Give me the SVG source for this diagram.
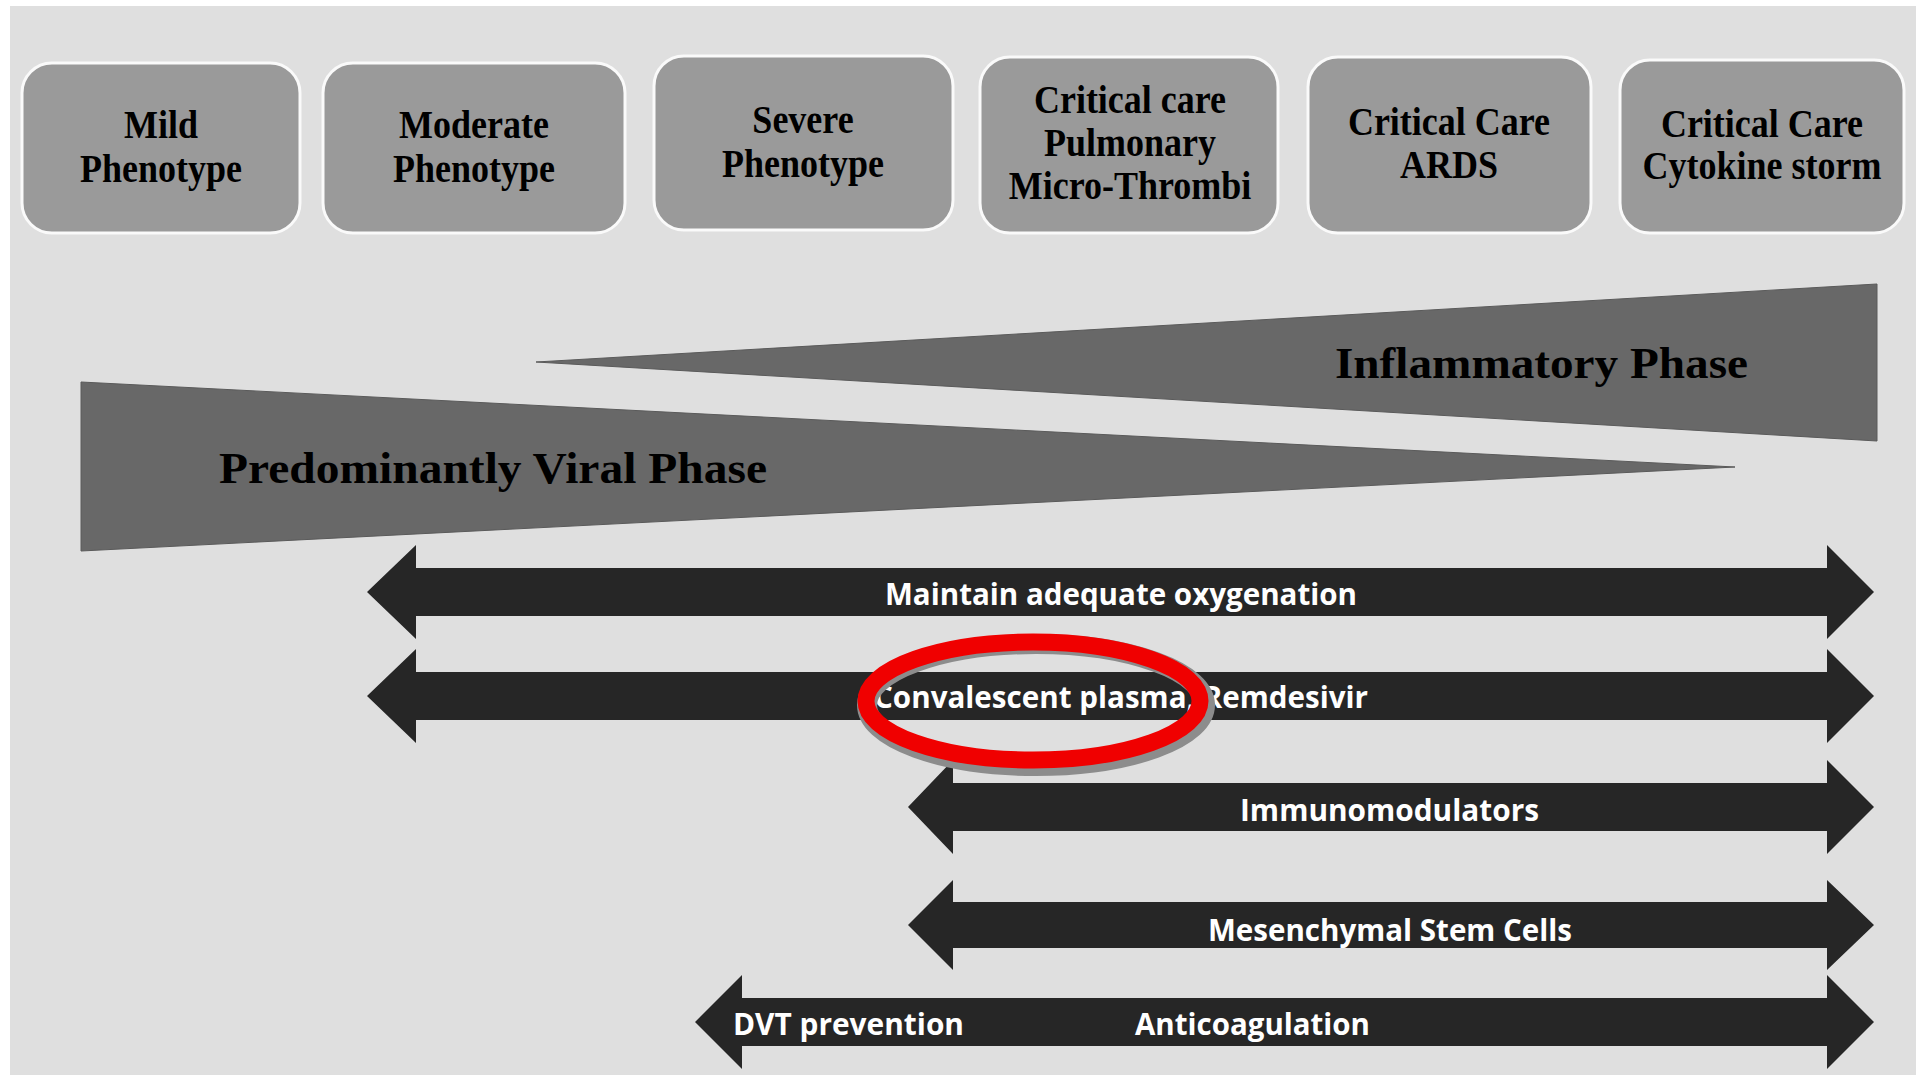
<svg xmlns="http://www.w3.org/2000/svg" width="1921" height="1075" viewBox="0 0 1921 1075">
<style>
.box{fill:#9a9a9a;stroke:#fafafa;stroke-width:3}
.bt{font-family:"Liberation Serif","Times New Roman",serif;font-weight:bold;font-size:36px;fill:#000;text-anchor:middle}
.ph{font-family:"Liberation Serif","Times New Roman",serif;font-weight:bold;font-size:44px;fill:#000}
.tri{fill:#686868;stroke:#5a5a5a;stroke-width:1}
.arr{fill:#262626}
.at{font-family:"Open Sans","Liberation Sans",sans-serif;font-weight:bold;font-size:30px;fill:#fff}
</style>
<rect x="0" y="0" width="1921" height="1075" fill="#ffffff"/>
<rect x="10" y="6" width="1906" height="1069" fill="#dfdfdf"/>

<g id="node-mild"><rect class="box" x="22" y="63" width="278" height="170" rx="30"/><text class="bt" transform="translate(161,138) scale(1,1.1)">Mild</text><text class="bt" transform="translate(161,182) scale(1,1.1)">Phenotype</text></g>
<g id="node-moderate"><rect class="box" x="323" y="63" width="302" height="170" rx="30"/><text class="bt" transform="translate(474,138) scale(1,1.1)">Moderate</text><text class="bt" transform="translate(474,182) scale(1,1.1)">Phenotype</text></g>
<g id="node-severe"><rect class="box" x="654" y="56" width="299" height="174" rx="30"/><text class="bt" transform="translate(803,133) scale(1,1.1)">Severe</text><text class="bt" transform="translate(803,177) scale(1,1.1)">Phenotype</text></g>
<g id="node-pulmonary"><rect class="box" x="980" y="57" width="298" height="176" rx="30"/><text class="bt" transform="translate(1130,113) scale(1,1.1)">Critical care</text><text class="bt" transform="translate(1130,156) scale(1,1.1)">Pulmonary</text><text class="bt" transform="translate(1130,199) scale(1,1.1)">Micro-Thrombi</text></g>
<g id="node-ards"><rect class="box" x="1308" y="57" width="283" height="176" rx="30"/><text class="bt" transform="translate(1449,135) scale(1,1.1)">Critical Care</text><text class="bt" transform="translate(1449,178) scale(1,1.1)">ARDS</text></g>
<g id="node-cytokine"><rect class="box" x="1620" y="60" width="284" height="173" rx="30"/><text class="bt" transform="translate(1762,137) scale(1,1.1)">Critical Care</text><text class="bt" transform="translate(1762,179) scale(1,1.1)">Cytokine storm</text></g>

<g id="node-inflammatory"><polygon class="tri" points="536,362 1877,284 1877,441"/><text class="ph" x="1335" y="378" textLength="413" lengthAdjust="spacingAndGlyphs">Inflammatory Phase</text></g>
<g id="node-viral"><polygon class="tri" points="81,382 1735,467 81,551"/><text class="ph" x="219" y="483" textLength="548" lengthAdjust="spacingAndGlyphs">Predominantly Viral Phase</text></g>

<g id="connectors">
<polygon class="arr" points="367,592 416,545 416,568 1827,568 1827,545 1874,592 1827,639 1827,616 416,616 416,639"/>
<polygon class="arr" points="367,696 416,649 416,672 1827,672 1827,649 1874,696 1827,743 1827,720 416,720 416,743"/>
<polygon class="arr" points="908,807 953,760 953,783 1827,783 1827,760 1874,807 1827,854 1827,831 953,831 953,854"/>
<polygon class="arr" points="908,925 953,880 953,902 1827,902 1827,880 1874,925 1827,970 1827,948 953,948 953,970"/>
<polygon class="arr" points="695,1022 742,975 742,998 1827,998 1827,975 1874,1022 1827,1069 1827,1046 742,1046 742,1069"/>
</g>

<g id="labels">
<text class="at" x="885" y="605" textLength="472" lengthAdjust="spacingAndGlyphs">Maintain adequate oxygenation</text>
<text class="at" x="874" y="708" textLength="494" lengthAdjust="spacingAndGlyphs">Convalescent plasma, Remdesivir</text>
<text class="at" x="1240" y="821" textLength="299" lengthAdjust="spacingAndGlyphs">Immunomodulators</text>
<text class="at" x="1208" y="941" textLength="364" lengthAdjust="spacingAndGlyphs">Mesenchymal Stem Cells</text>
<text class="at" x="733" y="1035" textLength="231" lengthAdjust="spacingAndGlyphs">DVT prevention</text>
<text class="at" x="1135" y="1035" textLength="235" lengthAdjust="spacingAndGlyphs">Anticoagulation</text>
</g>

<g id="highlight">
<ellipse cx="1036" cy="705" rx="169" ry="61" fill="none" stroke="#8c8c8c" stroke-width="20"/>
<ellipse cx="1033" cy="701" rx="167" ry="59" fill="none" stroke="#f00000" stroke-width="17"/>
</g>
</svg>
